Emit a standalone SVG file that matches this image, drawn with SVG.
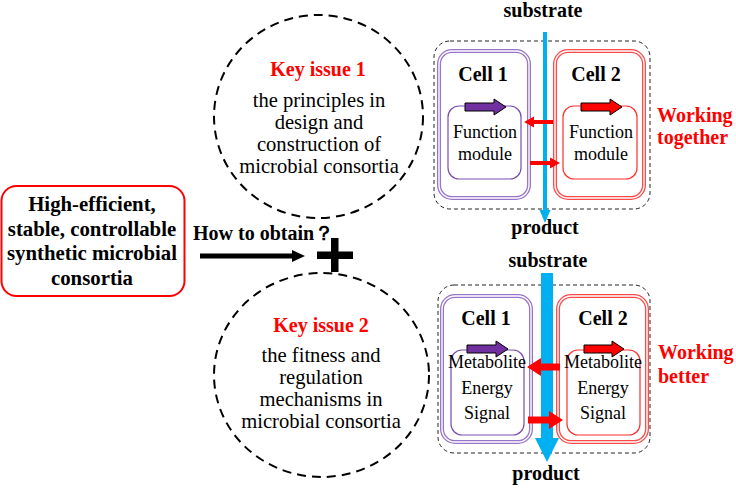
<svg xmlns="http://www.w3.org/2000/svg" width="736" height="488" viewBox="0 0 736 488">
<defs>
<style>
.t{font-family:"Liberation Serif","Times New Roman",serif;fill:#000;text-anchor:middle}
.b{font-weight:bold}
.red{fill:#ff0000}
.s20{font-size:20px}
.s21{font-size:20.8px}
.s205{font-size:20.6px}
.s18{font-size:18px}
.dash{fill:none;stroke:#000;stroke-width:2;stroke-dasharray:9,6}
.dbox{fill:none;stroke:#222;stroke-width:1;stroke-dasharray:4,3}
.c1o{fill:none;stroke:#9874cb;stroke-width:4}
.c2o{fill:none;stroke:#ff4a4a;stroke-width:4}
.gap{fill:none;stroke:#fff;stroke-width:1.4}
.m1{fill:none;stroke:#7a4cb0;stroke-width:1.2}
.m2{fill:none;stroke:#ff3030;stroke-width:1.2}
.g1{fill:#7030a0;stroke:#000;stroke-width:1}
.g2{fill:#ff0000;stroke:#000;stroke-width:1}
</style>
</defs>

<g id="goal">
<rect x="1.5" y="186" width="183" height="110" rx="15" fill="#fff" stroke="#ff0000" stroke-width="2"/>
<text class="t b s21" x="92" y="211">High-efficient,</text>
<text class="t b s21" x="92" y="235.5">stable, controllable</text>
<text class="t b s21" x="92" y="260">synthetic microbial</text>
<text class="t b s21" x="92" y="284.5">consortia</text>
</g>

<g id="issue1">
<ellipse class="dash" cx="318.5" cy="116.5" rx="104.5" ry="101.5"/>
<text class="t b s20 red" x="318" y="76">Key issue 1</text>
<text class="t s205" x="319" y="107">the principles in</text>
<text class="t s205" x="319" y="129">design and</text>
<text class="t s205" x="319" y="151">construction of</text>
<text class="t s205" x="319" y="173">microbial consortia</text>
</g>

<g id="issue2">
<ellipse class="dash" cx="321.5" cy="375" rx="107.5" ry="102"/>
<text class="t b s20 red" x="321" y="332">Key issue 2</text>
<text class="t s205" x="321" y="362">the fitness and</text>
<text class="t s205" x="321" y="384">regulation</text>
<text class="t s205" x="321" y="406">mechanisms in</text>
<text class="t s205" x="321" y="428">microbial consortia</text>
</g>

<g id="plus">
<rect x="317" y="251.5" width="36" height="7.5" fill="#000"/>
<rect x="331" y="238" width="7.5" height="34" fill="#000"/>
</g>

<g id="panel1">
<rect class="dbox" x="434" y="41" width="216" height="168" rx="16"/>
<rect class="c1o" x="439" y="51" width="90" height="147" rx="13"/>
<rect class="gap" x="439" y="51" width="90" height="147" rx="13"/>
<rect class="c2o" x="555" y="51" width="89" height="147" rx="13"/>
<rect class="gap" x="555" y="51" width="89" height="147" rx="13"/>
<text class="t b s20" x="483" y="81">Cell 1</text>
<text class="t b s20" x="596" y="81">Cell 2</text>
<rect class="m1" x="448" y="106" width="73" height="73" rx="11"/>
<rect class="m2" x="563" y="106" width="74" height="73" rx="11"/>
<polygon class="g1" points="465,103 494,103 494,99 506,107 494,115 494,111 465,111"/>
<polygon class="g2" points="581,103 610,103 610,99 622,107 610,115 610,111 581,111"/>
<text class="t s18" x="485" y="138">Function</text>
<text class="t s18" x="485" y="160">module</text>
<text class="t s18" x="601" y="138">Function</text>
<text class="t s18" x="601" y="160">module</text>
<text class="t b s20 red" x="657" y="122" style="text-anchor:start">Working</text>
<text class="t b s20 red" x="657" y="144" style="text-anchor:start">together</text>
</g>

<g id="panel2">
<rect class="dbox" x="438" y="285" width="212" height="168" rx="16"/>
<rect class="c1o" x="442" y="296" width="89" height="146" rx="13"/>
<rect class="gap" x="442" y="296" width="89" height="146" rx="13"/>
<rect class="c2o" x="558" y="296" width="89" height="146" rx="13"/>
<rect class="gap" x="558" y="296" width="89" height="146" rx="13"/>
<text class="t b s20" x="486" y="325">Cell 1</text>
<text class="t b s20" x="603" y="325">Cell 2</text>
<rect class="m1" x="451" y="350" width="73" height="85" rx="11"/>
<rect class="m2" x="567" y="350" width="73" height="85" rx="11"/>
<polygon class="g1" points="467,345 496,345 496,341 508,349 496,357 496,353 467,353"/>
<polygon class="g2" points="584,345 612,345 612,341 624,349 612,357 612,353 584,353"/>
<text class="t s18" x="487" y="368">Metabolite</text>
<text class="t s18" x="487" y="394">Energy</text>
<text class="t s18" x="487" y="419">Signal</text>
<text class="t s18" x="603" y="368">Metabolite</text>
<text class="t s18" x="603" y="394">Energy</text>
<text class="t s18" x="603" y="419">Signal</text>
<text class="t b s20 red" x="658" y="359" style="text-anchor:start">Working</text>
<text class="t b s20 red" x="658" y="383" style="text-anchor:start">better</text>
</g>

<g id="labels">
<text class="t b s20" x="543" y="17">substrate</text>
<text class="t b s20" x="545" y="234">product</text>
<text class="t b s20" x="548" y="267">substrate</text>
<text class="t b s20" x="546" y="480">product</text>
<text class="t b s20" x="193" y="240" style="text-anchor:start">How to obtain？</text>
</g>

<g id="connectors">
<line x1="200" y1="256" x2="294" y2="256" stroke="#000" stroke-width="5"/>
<polygon points="292,250 305,256 292,262" fill="#000"/>
<line x1="545" y1="32" x2="545" y2="212" stroke="#00b0f0" stroke-width="4"/>
<polygon points="539.5,210 550.5,210 545,223" fill="#00b0f0"/>
<polygon points="553,120 534,120 534,116.5 524,122 534,127.5 534,124 553,124" fill="#ff0000"/>
<polygon points="530,161 550,161 550,157.5 560,163 550,168.5 550,165 530,165" fill="#ff0000"/>
<rect x="541" y="273" width="12" height="166" fill="#00b0f0"/>
<polygon points="535,438 559,438 547,462" fill="#00b0f0"/>
<polygon points="560,363.5 541,363.5 541,358 527,367 541,376 541,370.5 560,370.5" fill="#ff0000"/>
<polygon points="528,416.5 549,416.5 549,411 563,420 549,429 549,423.5 528,423.5" fill="#ff0000"/>
</g>
</svg>
